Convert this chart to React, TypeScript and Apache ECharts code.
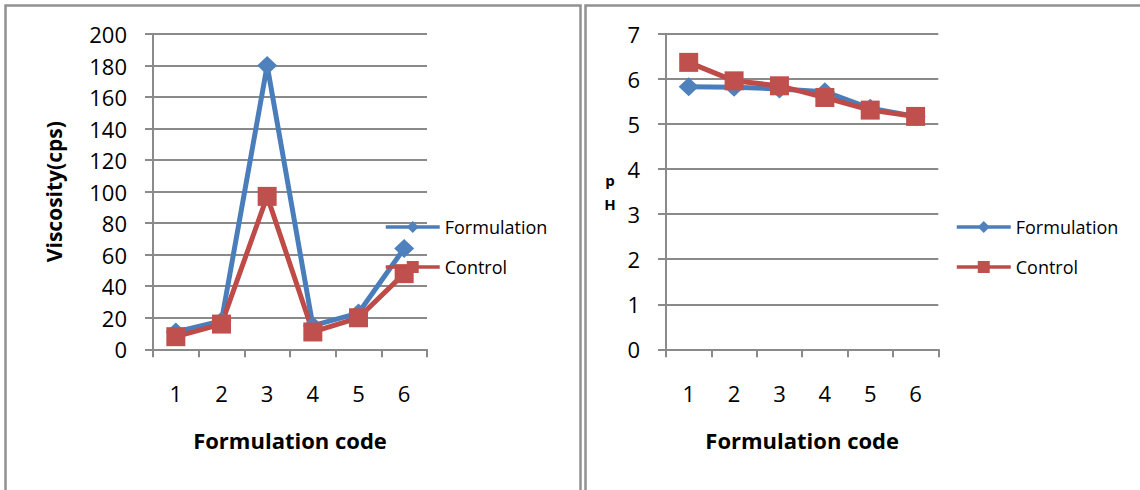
import React, { useEffect, useRef } from "react";
import * as echarts from "echarts";

const categories = ["1", "2", "3", "4", "5", "6"];
const seriesNames = ["Formulation", "Control"];
const viscosityFormulation = [11, 18, 180, 15, 23, 64];
const viscosityControl = [8, 16, 97, 11, 20, 48];
const phFormulation = [5.83, 5.82, 5.78, 5.72, 5.35, 5.17];
const phControl = [6.37, 5.96, 5.85, 5.59, 5.31, 5.17];

const FONT = "'Open Sans', 'Noto Sans', sans-serif";
const GRAY = "#8a8a8a";
const BLUE = "#4f81bd";
const BLUE_LINE = "#4a7ebb";
const RED = "#c0504d";
const RED_LINE = "#be4b48";

function makeX(gridIndex: number) {
  return {
    type: "category",
    gridIndex,
    data: categories,
    boundaryGap: true,
    name: "Formulation code",
    nameLocation: "middle",
    nameGap: 80,
    nameTextStyle: { fontFamily: FONT, fontSize: 22, fontWeight: "bold", color: "#000" },
    axisLine: { show: true, lineStyle: { color: GRAY, width: 2 } },
    axisTick: { show: true, length: 8, alignWithLabel: false, lineStyle: { color: GRAY, width: 2 } },
    axisLabel: { fontFamily: FONT, fontSize: 22, color: "#000", margin: 33 },
    splitLine: { show: false },
  };
}

function makeY(gridIndex: number, max: number, interval: number, name: string, nameStyle: any, nameGap: number, nameRotate: number) {
  return {
    type: "value",
    gridIndex,
    min: 0,
    max,
    interval,
    name,
    nameLocation: "middle",
    nameGap,
    nameRotate,
    nameTextStyle: nameStyle,
    axisLine: { show: true, lineStyle: { color: GRAY, width: 2 } },
    axisTick: { show: true, length: 8, lineStyle: { color: GRAY, width: 2 } },
    axisLabel: { fontFamily: FONT, fontSize: 22, color: "#000", margin: 26 },
    splitLine: { show: true, lineStyle: { color: GRAY, width: 2 } },
  };
}

function makeSeries(name: string, data: number[], idx: number, isForm: boolean) {
  return {
    type: "line",
    name,
    xAxisIndex: idx,
    yAxisIndex: idx,
    data,
    symbol: isForm ? "diamond" : "rect",
    symbolSize: isForm ? [20, 19] : 19,
    showSymbol: true,
    color: isForm ? BLUE : RED,
    itemStyle: { color: isForm ? BLUE : RED },
    lineStyle: { color: isForm ? BLUE_LINE : RED_LINE, width: 5 },
    emphasis: { disabled: true },
  };
}

function makeLegend(left: number) {
  return {
    orient: "vertical",
    left,
    top: 218,
    padding: 0,
    itemWidth: 54,
    itemHeight: 15,
    itemGap: 22,
    selectedMode: false,
    data: seriesNames,
    lineStyle: { width: 3.5 },
    textStyle: { fontFamily: FONT, fontSize: 18, color: "#000", padding: [0, 0, 0, 0] },
  };
}

export default function App() {
  const ref = useRef<HTMLDivElement>(null);
  useEffect(() => {
    if (!ref.current) return;
    const chart = echarts.init(ref.current, null, { renderer: "svg" });
    chart.setOption({
      animation: false,
      backgroundColor: "#ffffff",
      textStyle: { fontFamily: FONT },
      grid: [
        { left: 153, top: 34, width: 274, height: 315.3 },
        { left: 666, top: 34, width: 272.3, height: 315.3 },
      ],
      xAxis: [makeX(0), makeX(1)],
      yAxis: [
        makeY(0, 200, 20, "Viscosity(cps)", { fontFamily: FONT, fontSize: 21, fontWeight: "bold", color: "#000" }, 89, 90),
        makeY(1, 7, 1, "p\nH", { fontFamily: FONT, fontSize: 15, fontWeight: "bold", color: "#000", lineHeight: 24, align: "center", padding: [8, 0, 0, 0] }, 56, 0),
      ],
      legend: [makeLegend(384), makeLegend(955)],
      series: [
        makeSeries(seriesNames[0], viscosityFormulation, 0, true),
        makeSeries(seriesNames[1], viscosityControl, 0, false),
        makeSeries(seriesNames[0], phFormulation, 1, true),
        makeSeries(seriesNames[1], phControl, 1, false),
      ],
      graphic: [
        {
          type: "rect",
          shape: { x: 5.5, y: 5.5, width: 575, height: 520 },
          style: { fill: "none", stroke: "#919191", lineWidth: 2.5 },
          silent: true,
        },
        {
          type: "rect",
          shape: { x: 585.5, y: 5.5, width: 570, height: 520 },
          style: { fill: "none", stroke: "#919191", lineWidth: 2.5 },
          silent: true,
        },
      ],
    });
    return () => chart.dispose();
  }, []);
  return (
    <div
      ref={ref}
      style={{ position: "absolute", left: 0, top: 0, width: 1140, height: 490 }}
    />
  );
}
